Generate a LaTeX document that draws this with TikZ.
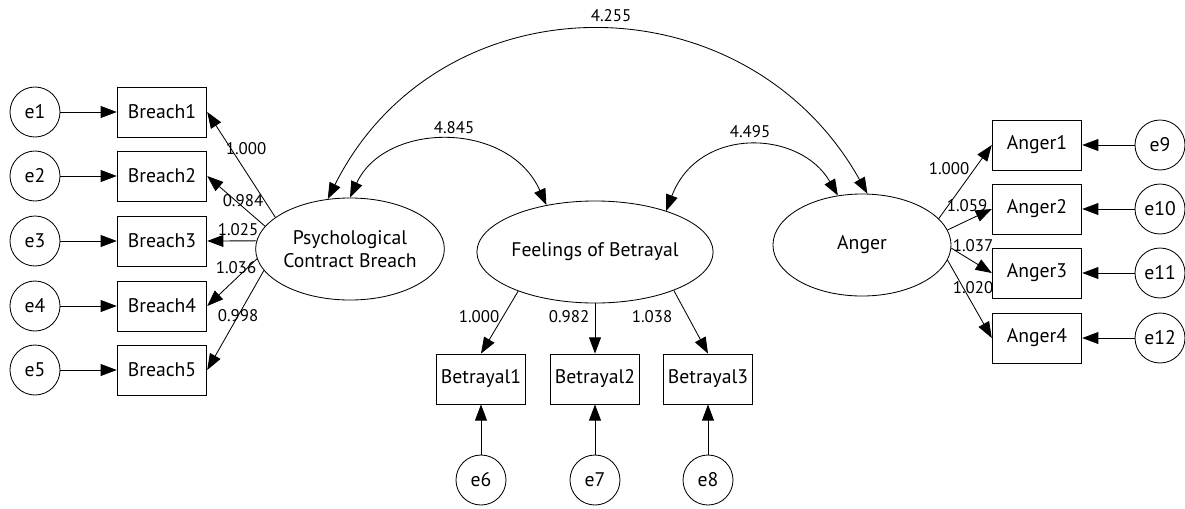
\documentclass[tikz,border=0pt]{standalone}
\usepackage{fontspec}
\setmainfont{PT Sans}
\usetikzlibrary{arrows.meta,shapes.geometric}
\begin{document}
\begin{tikzpicture}[x=0.025cm,y=-0.025cm,
  every node/.style={font=\fontsize{14}{16}\selectfont},
  obs/.style={draw, rectangle, minimum width=2.24cm, minimum height=1.25cm, inner sep=0pt, line width=0.6pt},
  lat/.style={draw, ellipse, minimum width=4.45cm, minimum height=2.55cm, inner sep=0pt, align=center, line width=0.6pt},
  err/.style={draw, circle, minimum size=1.25cm, inner sep=0pt, line width=0.6pt},
  lab/.style={font=\fontsize{12}{14}\selectfont, inner sep=0pt},
  conn/.style={line width=0.6pt, -{Triangle[length=11.5pt,width=8.5pt]}},
  cov/.style={line width=0.6pt, {Triangle[length=11.5pt,width=8.5pt]}-{Triangle[length=11.5pt,width=8.5pt]}}
]
\useasboundingbox (0,0) rectangle (1185,508);

% error terms left
\node[err] (e1) at (35,112) {e1};
\node[err] (e2) at (35,176) {e2};
\node[err] (e3) at (35,241) {e3};
\node[err] (e4) at (35,306) {e4};
\node[err] (e5) at (35,370) {e5};
% breach items
\node[obs] (b1) at (162,112) {Breach1};
\node[obs] (b2) at (162,176) {Breach2};
\node[obs] (b3) at (162,241) {Breach3};
\node[obs] (b4) at (162,306) {Breach4};
\node[obs] (b5) at (162,370) {Breach5};
% latents
\node[lat] (pcb) at (350,249) {Psychological\\Contract Breach};
\node[lat] (fob) at (595,252) {Feelings of Betrayal};
\node[lat] (ang) at (862,245) {Anger};
% betrayal items
\node[obs] (t1) at (481,379) {Betrayal1};
\node[obs] (t2) at (595,379) {Betrayal2};
\node[obs] (t3) at (708,379) {Betrayal3};
\node[err] (e6) at (481,480) {e6};
\node[err] (e7) at (595,480) {e7};
\node[err] (e8) at (708,480) {e8};
% anger items
\node[obs] (a1) at (1037,145) {Anger1};
\node[obs] (a2) at (1037,209) {Anger2};
\node[obs] (a3) at (1037,273) {Anger3};
\node[obs] (a4) at (1037,338) {Anger4};
\node[err] (e9) at (1160,145) {e9};
\node[err] (e10) at (1160,209) {e10};
\node[err] (e11) at (1160,273) {e11};
\node[err] (e12) at (1160,338) {e12};

% error arrows
\draw[conn] (e1) -- (b1);
\draw[conn] (e2) -- (b2);
\draw[conn] (e3) -- (b3);
\draw[conn] (e4) -- (b4);
\draw[conn] (e5) -- (b5);
\draw[conn] (e6) -- (t1);
\draw[conn] (e7) -- (t2);
\draw[conn] (e8) -- (t3);
\draw[conn] (e9) -- (a1);
\draw[conn] (e10) -- (a2);
\draw[conn] (e11) -- (a3);
\draw[conn] (e12) -- (a4);

% loadings
\draw[conn] (pcb.157) -- (b1.east);
\draw[conn] (pcb.165) -- (b2.east);
\draw[conn] (pcb.175) -- (b3.east);
\draw[conn] (pcb.186) -- (b4.east);
\draw[conn] (pcb.194) -- (b5.east);
\draw[conn] (fob.207) -- (t1.north);
\draw[conn] (fob.south) -- (t2.north);
\draw[conn] (fob.334) -- (t3.north);
\draw[conn] (ang.19) -- (a1.west);
\draw[conn] (ang.10) -- (a2.west);
\draw[conn] (ang.-2) -- (a3.west);
\draw[conn] (ang.-10) -- (a4.west);

% covariances
\draw[cov] (pcb.114) .. controls +(112,-223) and +(-122,-218) .. (ang.84);
\draw[cov] (pcb.90) .. controls +(35,-76) and +(-38,-85) .. (fob.136);
\draw[cov] (fob.30) .. controls +(32,-85) and +(-38,-66) .. (ang.116);

% labels
\node[lab] (l1) at (246,149) {1.000};
\node[lab] (l2) at (243,201) {0.984};
\node[lab] (l3) at (238,230) {1.025};
\node[lab] (l4) at (236,268) {1.036};
\node[lab] (l5) at (238,316) {0.998};
\node[lab] (l6) at (479,317) {1.000};
\node[lab] (l7) at (569,317) {0.982};
\node[lab] (l8) at (652,317) {1.038};
\node[lab] (l9) at (949,169) {1.000};
\node[lab] (l10) at (967,206) {1.059};
\node[lab] (l11) at (973,246) {1.037};
\node[lab] (l12) at (973,288) {1.020};
\node[lab] (c1) at (611,16) {4.255};
\node[lab] (c2) at (454,128) {4.845};
\node[lab] (c3) at (750,132) {4.495};
\end{tikzpicture}
\end{document}
